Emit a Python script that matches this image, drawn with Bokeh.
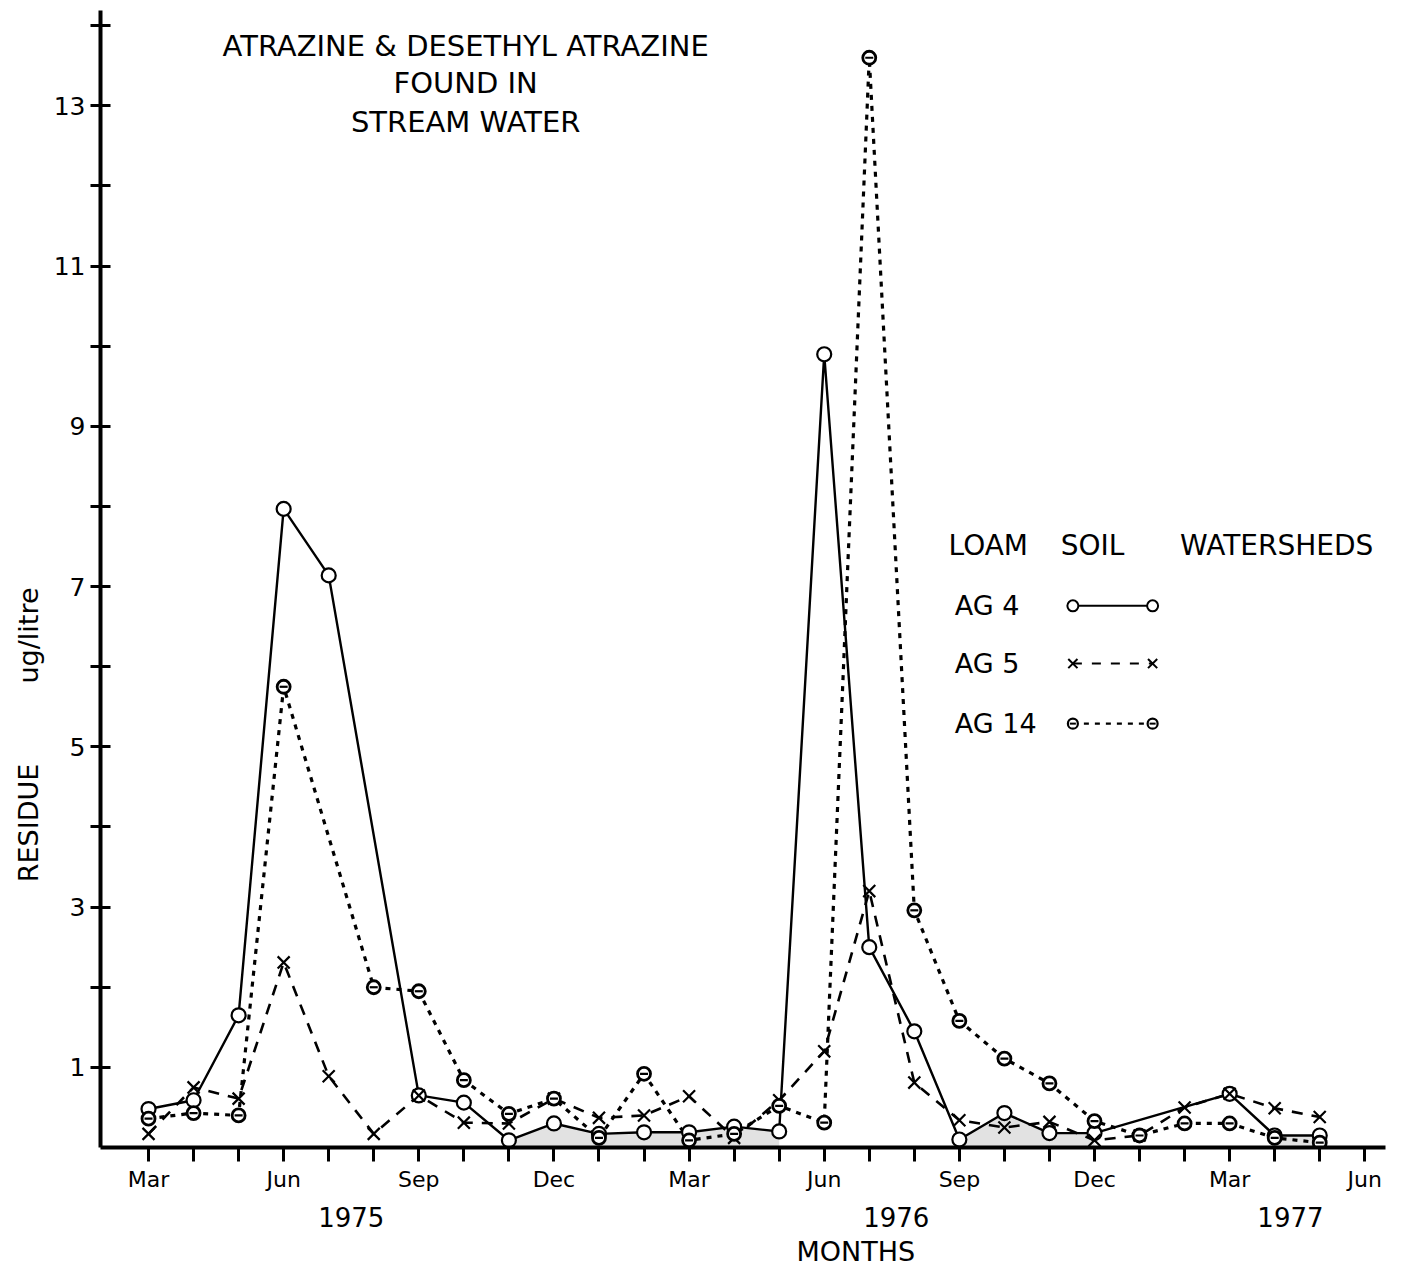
import math
from bokeh.plotting import figure
from bokeh.models import FixedTicker, LinearAxis, Range1d, Label
from bokeh.embed import file_html
from bokeh.resources import INLINE

# ---------------- data ----------------
months = ["Mar", "Apr", "May", "Jun", "Jul", "Aug", "Sep", "Oct", "Nov", "Dec", "Jan", "Feb",
          "Mar", "Apr", "May", "Jun", "Jul", "Aug", "Sep", "Oct", "Nov", "Dec", "Jan", "Feb",
          "Mar", "Apr", "May", "Jun"]
shown_months = ["Mar", "Jun", "Sep", "Dec"]
years = ["1975", "1976", "1977"]
year_pos = [4.5, 16.6, 25.35]

ag4 = [0.48, 0.59, 1.65, 7.97, 7.14, None, 0.65, 0.56, 0.09, 0.30, 0.17, 0.19,
       0.19, 0.26, 0.20, 9.90, 2.50, 1.45, 0.10, 0.43, 0.18, 0.18, None, None,
       0.67, 0.15, 0.15, None]
ag5 = [0.17, 0.75, 0.61, 2.31, 0.89, 0.17, 0.65, 0.31, 0.30, 0.61, 0.37, 0.40,
       0.64, 0.12, 0.59, 1.20, 3.20, 0.81, 0.34, 0.25, 0.32, 0.09, 0.15, 0.50,
       0.67, 0.49, 0.38, None]
ag14 = [0.36, 0.43, 0.40, 5.75, None, 2.00, 1.95, 0.84, 0.42, 0.61, 0.12, 0.92,
        0.09, 0.17, 0.52, 0.31, 13.60, 2.96, 1.58, 1.11, 0.80, 0.33, 0.15, 0.30,
        0.30, 0.12, 0.06, None]
shaded_spans = [(8, 14), (18, 21), (25, 26)]

title_lines = ["ATRAZINE & DESETHYL ATRAZINE", "FOUND IN", "STREAM WATER"]
legend_words = ["LOAM", "SOIL", "WATERSHEDS"]
legend_names = ["AG 4", "AG 5", "AG 14"]

FONT = "DejaVu Sans"


def pts(vals):
    xs = [i for i, v in enumerate(vals) if v is not None]
    ys = [v for v in vals if v is not None]
    return xs, ys


p = figure(width=1400, height=1273, output_backend="svg", toolbar_location=None,
           x_range=Range1d(-1.066, 27.46), y_range=Range1d(0, 14.19),
           min_border_left=100, min_border_right=15, min_border_top=10, min_border_bottom=126)
p.outline_line_color = None
p.xgrid.visible = False
p.ygrid.visible = False
p.background_fill_color = "white"
p.border_fill_color = "white"

# shaded regions under AG4
for a, b in shaded_spans:
    xs = list(range(a, b + 1))
    ys = [ag4[i] for i in xs]
    p.varea(x=xs, y1=[0] * len(xs), y2=ys, fill_color="#e2e2e2")

# lines
x4, y4 = pts(ag4)
x5, y5 = pts(ag5)
x14, y14 = pts(ag14)
p.line(x4, y4, line_color="black", line_width=2.4)
p.line(x5, y5, line_color="black", line_width=2.6, line_dash="11 9")
p.line(x14, y14, line_color="black", line_width=3.2, line_dash="5 6")

# markers
p.scatter(x4, y4, marker="circle", size=14, fill_color="white", line_color="black", line_width=2.2)
p.scatter(x5, y5, marker="x", size=17, line_color="black", line_width=2.2)
p.scatter(x14, y14, marker="circle", size=13, fill_color="white", line_color="black", line_width=2.8)
p.scatter(x14, y14, marker="dash", size=8, line_color="black", line_width=2.2)

# ---------------- axes ----------------
xa = p.xaxis[0]
xa.ticker = FixedTicker(ticks=list(range(len(months))))
xa.major_label_overrides = {i: (m if m in shown_months else "") for i, m in enumerate(months)}
xa.minor_tick_line_color = None
xa.major_tick_in = 0
xa.major_tick_out = 14
xa.major_tick_line_width = 3
xa.axis_line_width = 4
xa.major_label_standoff = 5
xa.major_label_text_font = FONT
xa.major_label_text_font_size = "22px"
xa.major_label_text_color = "black"

ya = p.yaxis[0]
ya.ticker = FixedTicker(ticks=list(range(1, 15)))
ya.major_label_overrides = {i: (str(i) if i % 2 == 1 else "") for i in range(1, 15)}
ya.minor_tick_line_color = None
ya.major_tick_in = 10
ya.major_tick_out = 10
ya.major_tick_line_width = 3
ya.axis_line_width = 4
ya.major_label_standoff = 5
ya.major_label_text_font = FONT
ya.major_label_text_font_size = "25px"
ya.major_label_text_color = "black"

# year labels axis
year_axis = LinearAxis(ticker=FixedTicker(ticks=year_pos),
                       major_label_overrides={pos: y for pos, y in zip(year_pos, years)})
year_axis.axis_line_color = None
year_axis.major_tick_line_color = None
year_axis.minor_tick_line_color = None
year_axis.major_label_standoff = 6
year_axis.major_label_text_font = FONT
year_axis.major_label_text_font_size = "26px"
year_axis.major_label_text_color = "black"
p.add_layout(year_axis, "below")

# MONTHS label axis
months_pos = 15.7
months_axis = LinearAxis(ticker=FixedTicker(ticks=[months_pos]),
                         major_label_overrides={months_pos: "MONTHS"})
months_axis.axis_line_color = None
months_axis.major_tick_line_color = None
months_axis.minor_tick_line_color = None
months_axis.major_label_standoff = 0
months_axis.major_label_text_font = FONT
months_axis.major_label_text_font_size = "27px"
months_axis.major_label_text_color = "black"
p.add_layout(months_axis, "below")

# y-axis title axis
ylab_pos = [4.05, 6.39]
ylab_axis = LinearAxis(ticker=FixedTicker(ticks=ylab_pos),
                       major_label_overrides={ylab_pos[0]: "RESIDUE", ylab_pos[1]: "ug/litre"},
                       major_label_orientation="vertical")
ylab_axis.axis_line_color = None
ylab_axis.major_tick_line_color = None
ylab_axis.minor_tick_line_color = None
ylab_axis.major_label_standoff = 0
ylab_axis.major_label_text_font = FONT
ylab_axis.major_label_text_font_size = "27px"
ylab_axis.major_label_text_color = "black"
p.add_layout(ylab_axis, "left")

# ---------------- title ----------------
title_x = 7.04
title_y = [13.75, 13.29, 12.80]
for t, yy in zip(title_lines, title_y):
    p.add_layout(Label(x=title_x, y=yy, text=t, text_align="center", text_baseline="middle",
                       text_font=FONT, text_font_size="29px", text_color="black"))

# ---------------- legend ----------------
leg_title_y = 7.51
leg_word_x = [17.76, 20.25, 22.9]
for w, xx in zip(legend_words, leg_word_x):
    p.add_layout(Label(x=xx, y=leg_title_y, text=w, text_align="left",
                       text_baseline="middle", text_font=FONT, text_font_size="28px",
                       text_color="black"))

leg_x_text = 17.9
leg_x0, leg_x1 = 20.52, 22.29
leg_rows = [6.76, 6.04, 5.29]
for name, yy in zip(legend_names, leg_rows):
    p.add_layout(Label(x=leg_x_text, y=yy, text=name, text_align="left", text_baseline="middle",
                       text_font=FONT, text_font_size="27px", text_color="black"))

r0, r1, r2 = leg_rows
p.line([leg_x0, leg_x1], [r0, r0], line_color="black", line_width=2)
p.scatter([leg_x0, leg_x1], [r0, r0], marker="circle", size=11, fill_color="white",
          line_color="black", line_width=2)
p.line([leg_x0, leg_x1], [r1, r1], line_color="black", line_width=2, line_dash="9 10")
p.scatter([leg_x0, leg_x1], [r1, r1], marker="x", size=13, line_color="black", line_width=2)
p.line([leg_x0, leg_x1], [r2, r2], line_color="black", line_width=2.4, line_dash="5 6")
p.scatter([leg_x0, leg_x1], [r2, r2], marker="circle", size=10, fill_color="white",
          line_color="black", line_width=2.2)
p.scatter([leg_x0, leg_x1], [r2, r2], marker="dash", size=6, line_color="black", line_width=2)

open("out.html", "w").write(file_html(p, INLINE))
